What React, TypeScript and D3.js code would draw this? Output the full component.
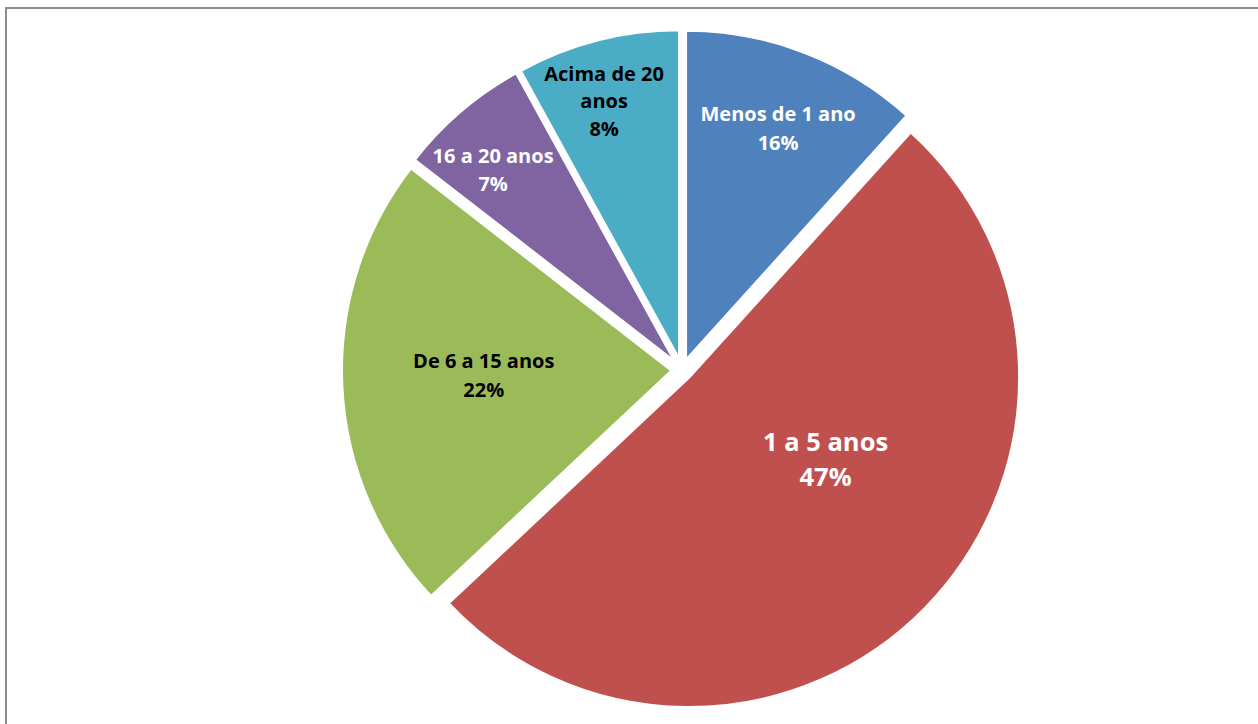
import React from "react";
import * as d3 from "d3";

// ---- data ----
const categories = ["Menos de 1 ano", "1 a 5 anos", "De 6 a 15 anos", "16 a 20 anos", "Acima de 20 anos"];
// slice sizes as drawn in the picture (share of the circle)
const sliceShares = [11.7, 51.3, 22.5, 6.5, 8.0];
// percentages printed in the labels
const labelPercents = ["16%", "47%", "22%", "7%", "8%"];
const labelLines = [["Menos de 1 ano"], ["1 a 5 anos"], ["De 6 a 15 anos"], ["16 a 20 anos"], ["Acima de 20", "anos"]];

// ---- styles / layout ----
const colors = ["#4F81BD", "#C0504D", "#9BBB59", "#8064A2", "#4BACC6"];
const textColors = ["#ffffff", "#ffffff", "#000000", "#ffffff", "#000000"];
const labelFontSize = [20, 25.5, 20, 20, 20];
const labelLineGap = [29, 35, 29, 28, 27.5];
// label anchor in polar form relative to the pie centre: [angle deg clockwise from top, radius fraction]
const labelPolar: [number, number][] = [
  [21.6, 0.79],
  [121.6, 0.51],
  [268.8, 0.6],
  [316.8, 0.835],
  [343.9, 0.85],
];

const W = 1258;
const H = 724;
const cx = 682;
const cy = 370;
const R = 330.5;
const explode = 10;

export default function App() {
  const pie = d3
    .pie<number>()
    .sort(null)
    .value((d) => d)
    .startAngle(0)
    .endAngle(2 * Math.PI);
  const arcs = pie(sliceShares);
  const arc = d3.arc<d3.PieArcDatum<number>>().innerRadius(0).outerRadius(R);
  const toRad = d3.scaleLinear().domain([0, 360]).range([0, 2 * Math.PI]);

  return (
    <svg
      width={W}
      height={H}
      style={{ position: "absolute", left: 0, top: 0, background: "#fff" }}
      fontFamily="'Open Sans', Lato, sans-serif"
    >
      <rect x={6} y={8} width={W + 20} height={H + 20} fill="#fff" stroke="#8c8c8c" strokeWidth={2} />
      <g transform={`translate(${cx},${cy})`}>
        {arcs.map((a, i) => {
          const mid = (a.startAngle + a.endAngle) / 2;
          const dx = Math.sin(mid) * explode;
          const dy = -Math.cos(mid) * explode;
          return (
            <path
              key={categories[i]}
              d={arc(a) || ""}
              transform={`translate(${dx},${dy})`}
              fill={colors[i]}
              stroke="#fff"
              strokeWidth={3}
              strokeLinejoin="miter"
            />
          );
        })}
        {arcs.map((a, i) => {
          const [deg, frac] = labelPolar[i];
          const ang = toRad(deg);
          const x = Math.sin(ang) * frac * R;
          const y = -Math.cos(ang) * frac * R;
          const lines = [...labelLines[i], labelPercents[i]];
          const gap = labelLineGap[i];
          const startY = y - ((lines.length - 1) * gap) / 2;
          return (
            <text
              key={"l" + i}
              x={x}
              y={startY}
              textAnchor="middle"
              dominantBaseline="central"
              fill={textColors[i]}
              fontWeight="bold"
              fontSize={labelFontSize[i]}
            >
              {lines.map((ln, j) => (
                <tspan key={j} x={x} y={startY + j * gap} dominantBaseline="central">
                  {ln}
                </tspan>
              ))}
            </text>
          );
        })}
      </g>
    </svg>
  );
}
